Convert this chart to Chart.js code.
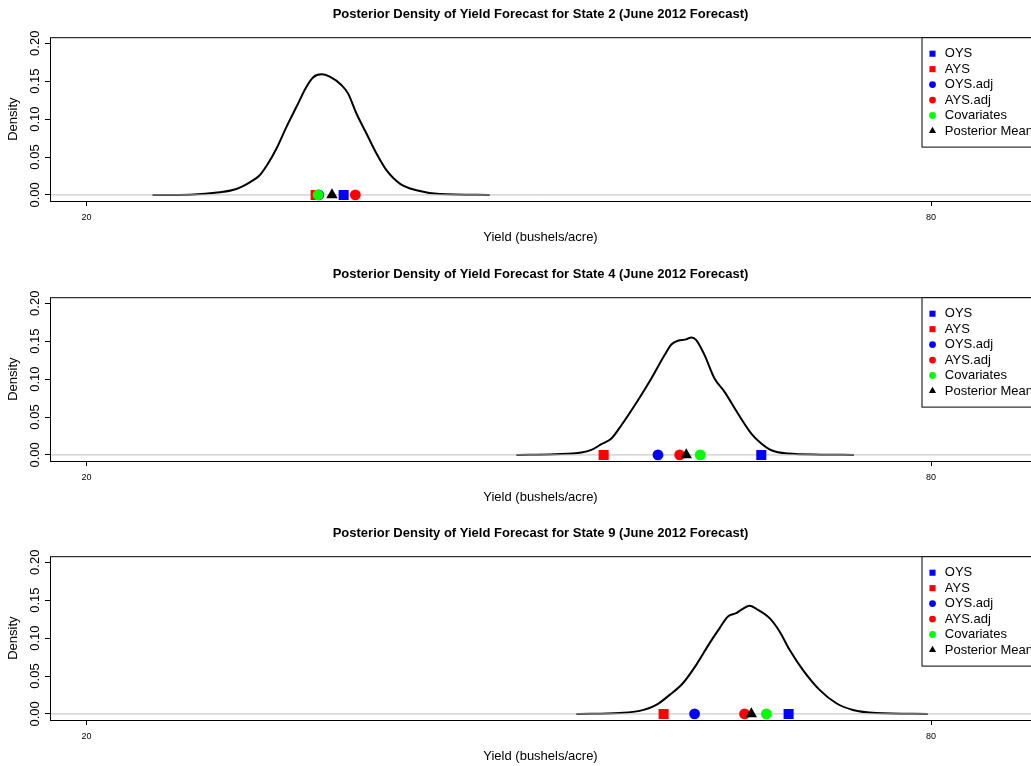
<!DOCTYPE html>
<html>
<head>
<meta charset="utf-8">
<script src="https://cdn.jsdelivr.net/npm/chart.js@4.4.1/dist/chart.umd.min.js"></script>
<style>
  html, body { margin: 0; padding: 0; background: #fff; overflow: hidden; width: 1031px; height: 766px; }
  .panel { position: absolute; left: 0; width: 1031px; height: 260px; }
</style>
</head>
<body>
<div class="panel" style="top:0px"><canvas id="state2" width="1031" height="260"></canvas></div>
<div class="panel" style="top:260px"><canvas id="state4" width="1031" height="260"></canvas></div>
<div class="panel" style="top:519px"><canvas id="state9" width="1031" height="260"></canvas></div>
<script>
// axis ranges and ticks
const X_MIN = 17.41, X_MAX = 87.1;
const Y_MIN = -0.008, Y_MAX = 0.208;
const X_TICKS = [20, 80];
const Y_TICKS = [0, 0.05, 0.10, 0.15, 0.20];

// point estimates, same order as SERIES
const SERIES = ["OYS", "AYS", "OYS.adj", "AYS.adj", "Covariates", "Posterior Mean"];

// State 2
const S2_YIELD = [24.69, 27.34, 29.47, 30.65, 31.6, 32.31, 32.9, 33.5, 34.21, 34.92, 35.63, 36.1, 36.69,
                  37.28, 38.11, 38.58, 39.18, 39.89, 40.6, 41.31, 42.26, 43.44, 45.1, 48.65];
const S2_DENSITY = [0, 0.0004, 0.0035, 0.0079, 0.0167, 0.026, 0.0414, 0.0612, 0.0898, 0.1162, 0.1427, 0.155, 0.159,
                    0.1559, 0.1449, 0.1339, 0.1074, 0.081, 0.0546, 0.0326, 0.015, 0.0062, 0.0013, 0];
const S2_MARKS = [38.27, 36.28, 36.5, 39.1, 36.45, 37.44];

// State 4
const S4_YIELD = [50.54, 53.26, 55.16, 55.87, 56.58, 57.29, 58.0, 59.18, 60.13, 61.07, 61.55, 62.02, 62.61,
                  62.97, 63.32, 63.91, 64.62, 65.33, 66.28, 67.23, 67.94, 68.65, 69.83, 72.2, 74.52];
const S4_DENSITY = [0, 0.0009, 0.0031, 0.0066, 0.0141, 0.0216, 0.0392, 0.0722, 0.1008, 0.1317, 0.1457, 0.1506, 0.1524,
                    0.155, 0.1515, 0.1317, 0.1008, 0.0832, 0.0546, 0.0282, 0.015, 0.0062, 0.0018, 0.0004, 0];
const S4_MARKS = [67.94, 56.74, 60.6, 62.14, 63.6, 62.61];

// State 9
const S9_YIELD = [54.8, 57.88, 59.3, 60.48, 61.43, 62.37, 63.32, 64.27, 64.98, 65.57, 66.16, 66.63, 67.11,
                  67.58, 68.53, 69.24, 69.95, 70.89, 72.08, 73.27, 74.45, 76.11, 79.77];
const S9_DENSITY = [0, 0.0013, 0.004, 0.0119, 0.0251, 0.0405, 0.0647, 0.0934, 0.1132, 0.1286, 0.133, 0.1387, 0.1427,
                    0.1387, 0.1264, 0.1088, 0.0845, 0.0581, 0.0317, 0.0141, 0.0053, 0.0013, 0];
const S9_MARKS = [69.88, 61.0, 63.2, 66.75, 68.3, 67.23];

// marker looks
const MARK_COLORS = ["#0000ff", "#ff0000", "#0000ff", "#ff0000", "#00ff00", "#000000"];
const MARK_STYLES = ["rect", "rect", "circle", "circle", "circle", "triangle"];
const MARK_RADII = [7.1, 7.1, 5.4, 5.4, 5.4, 6.6];
const LEGEND_RADII = [4.3, 4.3, 3.4, 3.4, 3.4, 4.1];

Chart.defaults.font.family = "'Liberation Sans', Arial, Helvetica, sans-serif";
Chart.defaults.color = "#000";

// box round the plot and the top-right legend, like base R
const boxAndLegend = {
    id: "boxAndLegend",
    afterDraw(chart) {
        const { ctx, chartArea: a } = chart;
        ctx.save();
        ctx.strokeStyle = "#000";
        ctx.lineWidth = 1;
        ctx.strokeRect(a.left + 0.5, a.top + 0.5, a.right - a.left, a.bottom - a.top);

        const x0 = a.right - 109.5, y0 = a.top + 0.5, h = 109.4;
        ctx.fillStyle = "#fff";
        ctx.fillRect(x0, y0, 120, h);
        ctx.strokeRect(x0 + 0.5, y0, 120, h);

        ctx.font = "13px 'Liberation Sans', Arial, sans-serif";
        ctx.textBaseline = "middle";
        SERIES.forEach((name, i) => {
            const y = y0 + 16 + i * 15.45;
            ctx.fillStyle = MARK_COLORS[i];
            Chart.helpers.drawPoint(ctx, { pointStyle: MARK_STYLES[i], radius: LEGEND_RADII[i], rotation: 0, borderWidth: 0 }, x0 + 11, y);
            ctx.fillStyle = "#000";
            ctx.fillText(name, x0 + 23.3, y);
        });
        ctx.restore();
    }
};

function drawState(id, state, yields, density, marks) {
    const datasets = [
        {
            label: "density",
            data: yields.map((x, i) => ({ x: x, y: density[i] })),
            showLine: true,
            borderColor: "#000",
            borderWidth: 2,
            pointRadius: 0,
            cubicInterpolationMode: "monotone",
            order: 10
        },
        {
            label: "zero",
            data: [{ x: X_MIN, y: 0 }, { x: X_MAX, y: 0 }],
            showLine: true,
            borderColor: "#bebebe",
            borderWidth: 1,
            pointRadius: 0,
            order: 9
        }
    ];
    SERIES.forEach((name, i) => {
        datasets.push({
            label: name,
            data: [{ x: marks[i], y: 0 }],
            pointStyle: MARK_STYLES[i],
            pointRadius: MARK_RADII[i],
            backgroundColor: MARK_COLORS[i],
            borderWidth: 0,
            pointBorderWidth: 0,
            order: 6 - i
        });
    });

    new Chart(document.getElementById(id), {
        type: "scatter",
        data: { datasets: datasets },
        plugins: [boxAndLegend],
        options: {
            responsive: false,
            animation: false,
            devicePixelRatio: 1,
            layout: { padding: 0, autoPadding: false },
            plugins: {
                legend: { display: false },
                tooltip: { enabled: false },
                title: {
                    display: true,
                    fullSize: false,
                    text: "Posterior Density of Yield Forecast for State " + state + " (June 2012 Forecast)",
                    font: { size: 13, weight: "bold" },
                    color: "#000",
                    padding: { top: 6.2, bottom: 15.4 }
                }
            },
            scales: {
                x: {
                    type: "linear",
                    min: X_MIN,
                    max: X_MAX,
                    afterBuildTicks: s => { s.ticks = X_TICKS.map(v => ({ value: v })); },
                    afterFit: s => { s.height = 59; s.paddingLeft = 0; s.paddingRight = 0; },
                    ticks: { maxRotation: 0, autoSkip: false, padding: 6.5, font: { size: 9 }, callback: v => String(v) },
                    grid: { drawOnChartArea: false, tickLength: 5, color: "#000" },
                    border: { display: false },
                    title: { display: true, text: "Yield (bushels/acre)", font: { size: 13 }, padding: { top: 15.2, bottom: 15.2 } }
                },
                y: {
                    type: "linear",
                    min: Y_MIN,
                    max: Y_MAX,
                    afterBuildTicks: s => { s.ticks = Y_TICKS.map(v => ({ value: v })); },
                    afterFit: s => { s.width = 50; s.paddingTop = 0; s.paddingBottom = 0; },
                    ticks: { minRotation: 90, maxRotation: 90, crossAlign: "center", padding: -3, autoSkip: false, font: { size: 13 }, callback: v => v.toFixed(2) },
                    grid: { drawOnChartArea: false, tickLength: 5, color: "#000" },
                    border: { display: false },
                    title: { display: true, text: "Density", font: { size: 13 }, padding: { top: 5.5, bottom: 5.5 } }
                }
            }
        }
    });
}

drawState("state2", 2, S2_YIELD, S2_DENSITY, S2_MARKS);
drawState("state4", 4, S4_YIELD, S4_DENSITY, S4_MARKS);
drawState("state9", 9, S9_YIELD, S9_DENSITY, S9_MARKS);
</script>
</body>
</html>
